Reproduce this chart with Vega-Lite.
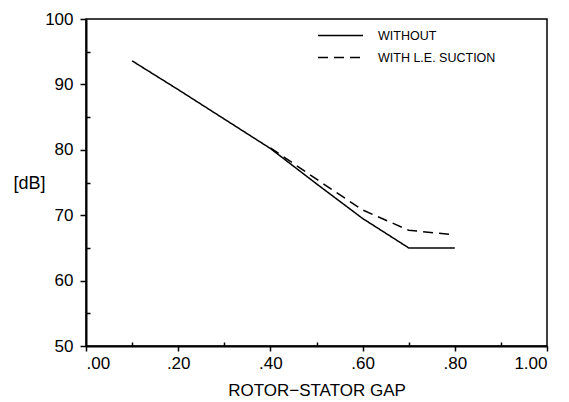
{
  "$schema": "https://vega.github.io/schema/vega-lite/v6.json",
  "width": 461,
  "height": 327,
  "autosize": {"type": "none"},
  "padding": {"left": 86, "top": 19, "right": 22, "bottom": 56},
  "background": "white",
  "config": {
    "view": {"stroke": "black", "strokeWidth": 1.5},
    "font": "Liberation Sans",
    "axis": {"grid": false, "domainColor": "black", "domainWidth": 2, "tickColor": "black", "tickWidth": 1.5, "labelColor": "black", "titleColor": "black", "labelFont": "Liberation Sans", "titleFont": "Liberation Sans", "titleFontWeight": "normal"}
  },
  "data": {
    "values": [
      {"gap": 0.1, "dB": 93.6, "series": "WITHOUT"},
      {"gap": 0.2, "dB": 89.2, "series": "WITHOUT"},
      {"gap": 0.3, "dB": 84.7, "series": "WITHOUT"},
      {"gap": 0.4, "dB": 80.2, "series": "WITHOUT"},
      {"gap": 0.5, "dB": 74.8, "series": "WITHOUT"},
      {"gap": 0.6, "dB": 69.5, "series": "WITHOUT"},
      {"gap": 0.7, "dB": 65.0, "series": "WITHOUT"},
      {"gap": 0.8, "dB": 65.0, "series": "WITHOUT"},
      {"gap": 0.4, "dB": 80.3, "series": "WITH L.E. SUCTION"},
      {"gap": 0.5, "dB": 75.5, "series": "WITH L.E. SUCTION"},
      {"gap": 0.6, "dB": 70.8, "series": "WITH L.E. SUCTION"},
      {"gap": 0.7, "dB": 67.7, "series": "WITH L.E. SUCTION"},
      {"gap": 0.8, "dB": 67.0, "series": "WITH L.E. SUCTION"}
    ]
  },
  "mark": {"type": "line", "color": "black", "strokeWidth": 1.5},
  "encoding": {
    "x": {
      "field": "gap", "type": "quantitative",
      "scale": {"domain": [0, 1], "nice": false, "zero": false},
      "axis": {
        "title": "ROTOR\u2212STATOR GAP",
        "values": [0, 0.1, 0.2, 0.3, 0.4, 0.5, 0.6, 0.7, 0.8, 0.9, 1.0],
        "labelExpr": "round(datum.value*10) % 2 == 0 ? replace(format(datum.value, '.2f'), '0.', '.') : ''",
        "tickSize": {"condition": {"test": "round(datum.value*10) % 2 == 0", "value": 5}, "value": -4},
        "labelFontSize": 17, "labelPadding": 4,
        "titleFontSize": 17, "titleY": 44, "titleBaseline": "middle"
      }
    },
    "y": {
      "field": "dB", "type": "quantitative",
      "scale": {"domain": [50, 100], "nice": false, "zero": false},
      "axis": {
        "title": "[dB]",
        "values": [50, 55, 60, 65, 70, 75, 80, 85, 90, 95, 100],
        "labelExpr": "datum.value % 10 == 0 ? datum.label : ''",
        "tickSize": {"condition": {"test": "datum.value % 10 == 0", "value": 6}, "value": -4},
        "labelFontSize": 17, "labelPadding": 7,
        "titleFontSize": 18, "titleAngle": 0, "titleAlign": "right", "titleBaseline": "middle",
        "titleX": -41, "titleY": 164
      }
    },
    "strokeDash": {
      "field": "series", "type": "nominal",
      "scale": {"domain": ["WITHOUT", "WITH L.E. SUCTION"], "range": [[1, 0], [10, 6]]},
      "legend": {
        "title": null, "orient": "none", "legendX": 231, "legendY": 8,
        "symbolType": "M-1,0H5", "symbolSize": 225, "symbolStrokeColor": "black", "symbolStrokeWidth": 1.5,
        "labelOffset": 44, "labelFontSize": 12.5, "labelColor": "black", "rowPadding": 7
      }
    }
  }
}
